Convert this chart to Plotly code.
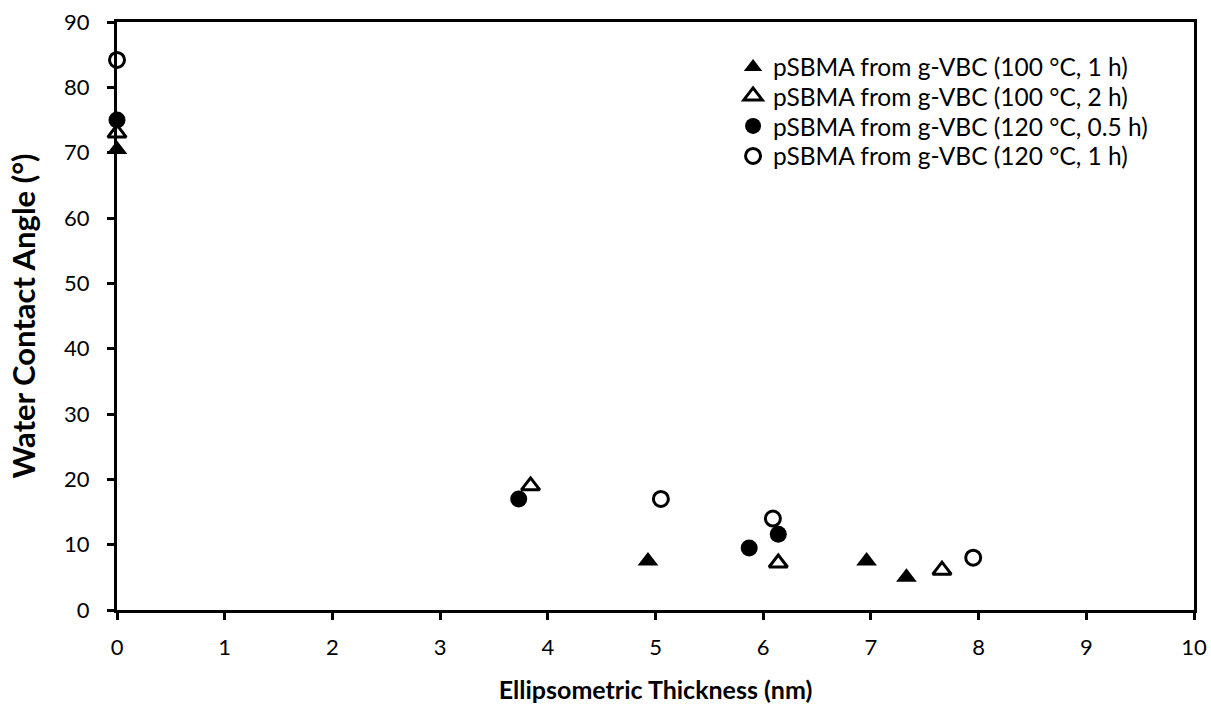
import plotly.graph_objects as go

names = [
    "pSBMA from g-VBC (100 °C, 1 h)",
    "pSBMA from g-VBC (100 °C, 2 h)",
    "pSBMA from g-VBC (120 °C, 0.5 h)",
    "pSBMA from g-VBC (120 °C, 1 h)",
]
x_100_1 = [0, 4.93, 6.96, 7.33]
y_100_1 = [70.5, 7.5, 7.5, 5.0]
x_100_2 = [0, 3.84, 6.14, 7.66]
y_100_2 = [73, 19, 7.2, 6.1]
x_120_05 = [0, 3.73, 5.87, 6.14]
y_120_05 = [75, 17, 9.5, 11.6]
x_120_1 = [0, 5.05, 6.09, 7.95]
y_120_1 = [84.2, 17, 14, 8]

x_ticks = list(range(0, 11))
y_ticks = list(range(0, 91, 10))

font = "Lato"

series = [
    (x_100_1, y_100_1, "triangle-up", "black", 0, 18),
    (x_100_2, y_100_2, "triangle-up-open", "black", 3, 16),
    (x_120_05, y_120_05, "circle", "black", 0, 17),
    (x_120_1, y_120_1, "circle-open", "black", 3, 15),
]
legend_ids = ["legend", "legend2", "legend3", "legend4"]
legend_rows = [0.9235, 0.8741, 0.8231, 0.7721]

fig = go.Figure()
for (xs, ys, sym, col, lw, sz), nm, lg in zip(series, names, legend_ids):
    fig.add_trace(go.Scatter(
        x=xs, y=ys, mode="markers", name=nm, legend=lg,
        marker=dict(symbol=sym, color=col, size=sz,
                    line=dict(color=col, width=lw)),
        cliponaxis=False,
    ))

legend_layout = {}
for lg, ry in zip(legend_ids, legend_rows):
    legend_layout[lg] = dict(x=0.572, y=ry, xanchor="left", yanchor="middle",
                             bgcolor="rgba(0,0,0,0)",
                             font=dict(size=24.5, family=font),
                             itemsizing="trace")

fig.update_layout(
    template="none",
    width=1211, height=704,
    margin=dict(l=117, r=17, t=22, b=94, autoexpand=False),
    paper_bgcolor="white", plot_bgcolor="white",
    font=dict(family=font, size=22, color="black"),
    showlegend=True,
    xaxis=dict(
        range=[0, 10], tickvals=x_ticks, showgrid=False, zeroline=False,
        showline=True, linecolor="black", linewidth=3, mirror=True,
        ticks="outside", ticklen=7, tickwidth=3, tickcolor="black",
        automargin=False, ticklabelstandoff=9,
        tickfont=dict(size=22, family=font),
        title=dict(text="<b>Ellipsometric Thickness (nm)</b>",
                   font=dict(size=25, family=font), standoff=30),
    ),
    yaxis=dict(
        range=[0, 90], tickvals=y_ticks, showgrid=False, zeroline=False,
        showline=True, linecolor="black", linewidth=3, mirror=True,
        ticks="outside", ticklen=7, tickwidth=3, tickcolor="black",
        automargin=False, ticklabelstandoff=13,
        tickfont=dict(size=22, family=font),
        title=dict(text="<b>Water Contact Angle (°)</b>",
                   font=dict(size=31, family=font), standoff=20),
    ),
    **legend_layout,
)

fig.write_html("out.html", config={"displayModeBar": False},
               post_script="document.body.style.margin='0px';")
